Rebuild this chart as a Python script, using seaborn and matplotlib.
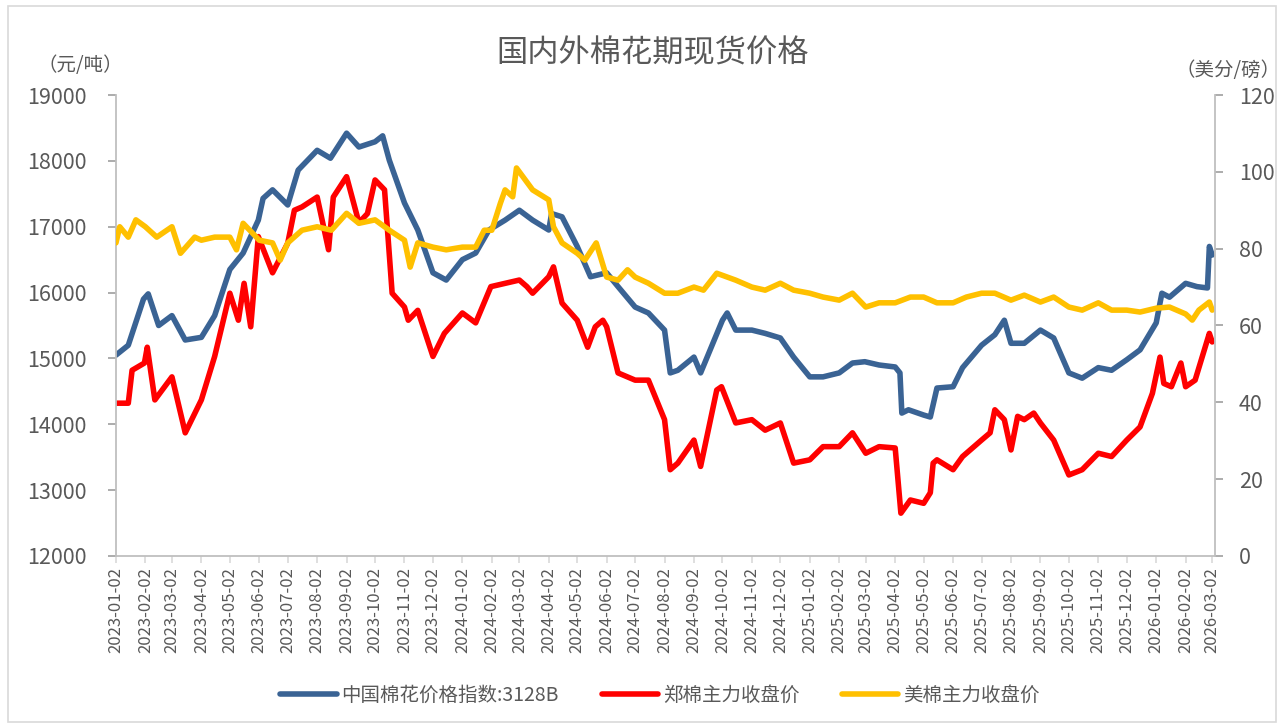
import pandas as pd
import numpy as np
import matplotlib
matplotlib.use('Agg')
import matplotlib.pyplot as plt
import matplotlib.dates as mdates
from matplotlib.patches import Rectangle
import seaborn as sns

# 中国棉花价格指数:3128B (元/吨)
cn_index_dates = [
    '2023-01-02', '2023-01-15', '2023-01-31', '2023-02-05', '2023-02-16', '2023-03-02', '2023-03-16',
    '2023-04-02', '2023-04-16', '2023-05-02', '2023-05-16', '2023-06-01', '2023-06-06', '2023-06-16',
    '2023-07-02', '2023-07-13', '2023-08-02', '2023-08-16', '2023-09-02', '2023-09-15', '2023-10-02',
    '2023-10-10', '2023-10-17', '2023-11-02', '2023-11-16', '2023-12-02', '2023-12-16', '2024-01-02',
    '2024-01-16', '2024-01-30', '2024-02-16', '2024-03-02', '2024-03-16', '2024-04-02', '2024-04-05',
    '2024-04-16', '2024-05-02', '2024-05-16', '2024-06-02', '2024-06-14', '2024-07-02', '2024-07-16',
    '2024-08-02', '2024-08-08', '2024-08-16', '2024-09-02', '2024-09-09', '2024-10-02', '2024-10-07',
    '2024-10-16', '2024-11-02', '2024-11-16', '2024-12-02', '2024-12-16', '2025-01-02', '2025-01-16',
    '2025-02-02', '2025-02-16', '2025-03-01', '2025-03-16', '2025-04-02', '2025-04-07', '2025-04-09',
    '2025-04-16', '2025-05-02', '2025-05-09', '2025-05-16', '2025-06-02', '2025-06-12', '2025-07-02',
    '2025-07-16', '2025-07-26', '2025-08-02', '2025-08-16', '2025-09-02', '2025-09-16', '2025-10-02',
    '2025-10-16', '2025-11-02', '2025-11-16', '2025-12-02', '2025-12-16', '2026-01-02', '2026-01-08',
    '2026-01-16', '2026-02-02', '2026-02-14', '2026-02-25', '2026-02-27', '2026-03-02',
]
cn_index_vals = [
    15050, 15200, 15900, 15980, 15500, 15650, 15280,
    15320, 15650, 16350, 16600, 17100, 17430, 17560,
    17330, 17860, 18160, 18040, 18420, 18210, 18290,
    18380, 18010, 17360, 16950, 16300, 16190, 16500,
    16600, 16950, 17100, 17250, 17100, 16950, 17200,
    17150, 16700, 16240, 16300, 16090, 15780, 15690,
    15430, 14780, 14820, 15020, 14780, 15580, 15690,
    15430, 15430, 15380, 15310, 15020, 14720, 14720,
    14780, 14930, 14950, 14900, 14870, 14780, 14170,
    14220, 14140, 14110, 14550, 14570, 14860, 15200,
    15360, 15580, 15230, 15230, 15430, 15310, 14780,
    14700, 14860, 14820, 14980, 15130, 15540, 15990,
    15930, 16140, 16090, 16070, 16700, 16570,
]

# 郑棉主力收盘价 (元/吨)
zc_dates = [
    '2023-01-02', '2023-01-15', '2023-01-19', '2023-02-01', '2023-02-04', '2023-02-12', '2023-03-02',
    '2023-03-16', '2023-04-02', '2023-04-16', '2023-05-02', '2023-05-11', '2023-05-17', '2023-05-24',
    '2023-06-01', '2023-06-16', '2023-07-02', '2023-07-09', '2023-07-17', '2023-08-02', '2023-08-14',
    '2023-08-19', '2023-09-02', '2023-09-15', '2023-09-24', '2023-10-02', '2023-10-12', '2023-10-20',
    '2023-11-02', '2023-11-06', '2023-11-16', '2023-12-02', '2023-12-14', '2024-01-02', '2024-01-16',
    '2024-02-01', '2024-02-16', '2024-03-02', '2024-03-10', '2024-03-16', '2024-04-02', '2024-04-07',
    '2024-04-16', '2024-05-02', '2024-05-13', '2024-05-21', '2024-05-29', '2024-06-02', '2024-06-14',
    '2024-07-02', '2024-07-16', '2024-08-02', '2024-08-08', '2024-08-16', '2024-09-02', '2024-09-09',
    '2024-09-26', '2024-10-01', '2024-10-16', '2024-11-02', '2024-11-16', '2024-12-02', '2024-12-16',
    '2025-01-02', '2025-01-16', '2025-02-02', '2025-02-16', '2025-03-02', '2025-03-16', '2025-04-02',
    '2025-04-08', '2025-04-18', '2025-05-02', '2025-05-09', '2025-05-12', '2025-05-16', '2025-06-02',
    '2025-06-12', '2025-07-02', '2025-07-11', '2025-07-16', '2025-07-26', '2025-08-02', '2025-08-09',
    '2025-08-16', '2025-08-26', '2025-09-02', '2025-09-16', '2025-10-02', '2025-10-16', '2025-11-02',
    '2025-11-16', '2025-12-02', '2025-12-16', '2025-12-29', '2026-01-06', '2026-01-10', '2026-01-18',
    '2026-01-28', '2026-02-02', '2026-02-12', '2026-02-27', '2026-03-02',
]
zc_vals = [
    14320, 14320, 14820, 14930, 15170, 14370, 14720,
    13870, 14370, 15030, 15990, 15580, 16140, 15480,
    16850, 16300, 16750, 17250, 17300, 17450, 16650,
    17450, 17760, 17060, 17200, 17710, 17560, 15990,
    15780, 15580, 15730, 15030, 15380, 15690, 15540,
    16090, 16140, 16190, 16090, 15990, 16240, 16390,
    15840, 15580, 15170, 15480, 15580, 15480, 14780,
    14670, 14670, 14070, 13310, 13410, 13760, 13360,
    14520, 14570, 14020, 14070, 13910, 14020, 13410,
    13460, 13660, 13660, 13870, 13560, 13660, 13640,
    12650, 12850, 12800, 12960, 13410, 13460, 13310,
    13510, 13760, 13870, 14220, 14070, 13610, 14120,
    14070, 14170, 14020, 13760, 13230, 13310, 13560,
    13510, 13760, 13960, 14470, 15020, 14620, 14570,
    14930, 14570, 14670, 15380, 15250,
]

# 美棉主力收盘价 (美分/磅)
ice_dates = [
    '2023-01-02', '2023-01-06', '2023-01-15', '2023-01-23', '2023-02-02', '2023-02-14', '2023-03-02',
    '2023-03-11', '2023-03-26', '2023-04-02', '2023-04-16', '2023-05-02', '2023-05-09', '2023-05-16',
    '2023-06-02', '2023-06-16', '2023-06-24', '2023-07-02', '2023-07-17', '2023-08-02', '2023-08-17',
    '2023-09-02', '2023-09-15', '2023-10-02', '2023-10-17', '2023-11-02', '2023-11-08', '2023-11-16',
    '2023-12-02', '2023-12-16', '2024-01-02', '2024-01-16', '2024-01-25', '2024-02-02', '2024-02-11',
    '2024-02-16', '2024-02-24', '2024-02-28', '2024-03-16', '2024-04-02', '2024-04-07', '2024-04-16',
    '2024-05-02', '2024-05-10', '2024-05-22', '2024-06-02', '2024-06-14', '2024-06-24', '2024-07-02',
    '2024-07-16', '2024-08-02', '2024-08-16', '2024-09-02', '2024-09-12', '2024-09-26', '2024-10-16',
    '2024-11-02', '2024-11-16', '2024-12-02', '2024-12-16', '2025-01-02', '2025-01-16', '2025-02-02',
    '2025-02-16', '2025-03-02', '2025-03-16', '2025-04-02', '2025-04-18', '2025-05-02', '2025-05-16',
    '2025-06-02', '2025-06-16', '2025-07-02', '2025-07-16', '2025-08-02', '2025-08-16', '2025-09-02',
    '2025-09-16', '2025-10-02', '2025-10-16', '2025-11-02', '2025-11-16', '2025-12-02', '2025-12-16',
    '2026-01-02', '2026-01-16', '2026-02-02', '2026-02-09', '2026-02-16', '2026-02-27', '2026-03-02',
]
ice_vals = [
    81.5, 85.7, 83.0, 87.5, 85.7, 83.0, 85.7,
    78.8, 83.0, 82.2, 83.0, 83.0, 79.7, 86.6,
    82.2, 81.5, 77.0, 81.5, 84.8, 85.7, 84.8,
    89.2, 86.6, 87.5, 84.8, 82.2, 75.2, 81.5,
    80.4, 79.7, 80.4, 80.4, 84.8, 84.8, 91.8,
    95.3, 93.5, 101.0, 95.3, 92.7, 85.7, 81.5,
    78.8, 77.0, 81.5, 72.6, 71.8, 74.5, 72.6,
    71.0, 68.4, 68.4, 70.0, 69.2, 73.6, 71.8,
    70.0, 69.2, 71.0, 69.2, 68.4, 67.4, 66.6,
    68.4, 64.8, 65.9, 65.9, 67.4, 67.4, 65.9,
    65.9, 67.4, 68.4, 68.4, 66.6, 67.9, 66.1,
    67.4, 64.8, 64.0, 65.9, 64.0, 64.0, 63.5,
    64.5, 64.8, 63.0, 61.4, 64.0, 66.1, 64.0,
]

labels = ['中国棉花价格指数:3128B', '郑棉主力收盘价', '美棉主力收盘价']
colors = ['#3A6394', '#FF0000', '#FFC000']
grey = '#595959'

sns.set_theme(style='white')
plt.rcParams['font.family'] = ['Noto Sans CJK SC', 'DejaVu Sans']
plt.rcParams['axes.unicode_minus'] = False

df_cn = pd.DataFrame({'date': pd.to_datetime(cn_index_dates), 'value': cn_index_vals})
df_zc = pd.DataFrame({'date': pd.to_datetime(zc_dates), 'value': zc_vals})
df_ice = pd.DataFrame({'date': pd.to_datetime(ice_dates), 'value': ice_vals})

fig = plt.figure(figsize=(12.84, 7.28), dpi=100)
ax = fig.add_axes([0.0903, 0.2363, 0.8560, 0.6332])
ax2 = ax.twinx()

lw = 4
sns.lineplot(data=df_cn, x='date', y='value', ax=ax, color=colors[0], lw=lw, label=labels[0], legend=False)
sns.lineplot(data=df_zc, x='date', y='value', ax=ax, color=colors[1], lw=lw, label=labels[1], legend=False)
sns.lineplot(data=df_ice, x='date', y='value', ax=ax2, color=colors[2], lw=lw, label=labels[2], legend=False)

ax.set_ylim(12000, 19000)
ax.set_yticks(np.arange(12000, 19001, 1000))
ax2.set_ylim(0, 120)
ax2.set_yticks(np.arange(0, 121, 20))
ax.set_xlim(pd.Timestamp('2023-01-02'), pd.Timestamp('2026-03-05'))
ax.xaxis.set_major_locator(mdates.MonthLocator(bymonthday=2))
ax.xaxis.set_major_formatter(mdates.DateFormatter('%Y-%m-%d'))

for a in (ax, ax2):
    a.set_xlabel('')
    a.set_ylabel('')
    a.grid(False)
    for side in ('left', 'right', 'bottom'):
        a.spines[side].set_color('#BFBFBF')
        a.spines[side].set_linewidth(1.3)
    a.spines['top'].set_visible(False)
ax.spines['right'].set_visible(False)
ax2.spines['left'].set_visible(False)
ax2.spines['bottom'].set_visible(False)

ax.tick_params(axis='y', which='major', left=True, length=6, width=1.3, color='#A6A6A6',
               labelsize=15.5, labelcolor=grey, pad=15)
ax2.tick_params(axis='y', which='major', right=True, length=6, width=1.3, color='#A6A6A6',
                labelsize=15.5, labelcolor=grey, pad=11)
ax.tick_params(axis='x', which='major', bottom=True, length=5, width=1.2, color='#D9D9D9',
               labelsize=12, labelcolor=grey, pad=3)
for lbl in ax.get_xticklabels():
    lbl.set_rotation(90)

fig.text(0.508, 0.927, '国内外棉花期现货价格', ha='center', va='center', fontsize=22.5, color=grey)
fig.text(0.0623, 0.9107, '（元/吨）', ha='center', va='center', fontsize=14, color=grey)
fig.text(0.9564, 0.9038, '（美分/磅）', ha='center', va='center', fontsize=14, color=grey)

handles = ax.get_lines()[:2] + ax2.get_lines()[:1]
fig.legend(handles, labels, loc='center', bbox_to_anchor=(0.514, 0.045), ncol=3, frameon=False,
           fontsize=14, labelcolor=grey, handlelength=2.9, columnspacing=2.2, handletextpad=0.25)

fig.patches.append(Rectangle((0.006, 0.008), 0.988, 0.984, transform=fig.transFigure,
                             fill=False, edgecolor='#D9D9D9', lw=1.2))

fig.savefig('out.png', dpi=100)
